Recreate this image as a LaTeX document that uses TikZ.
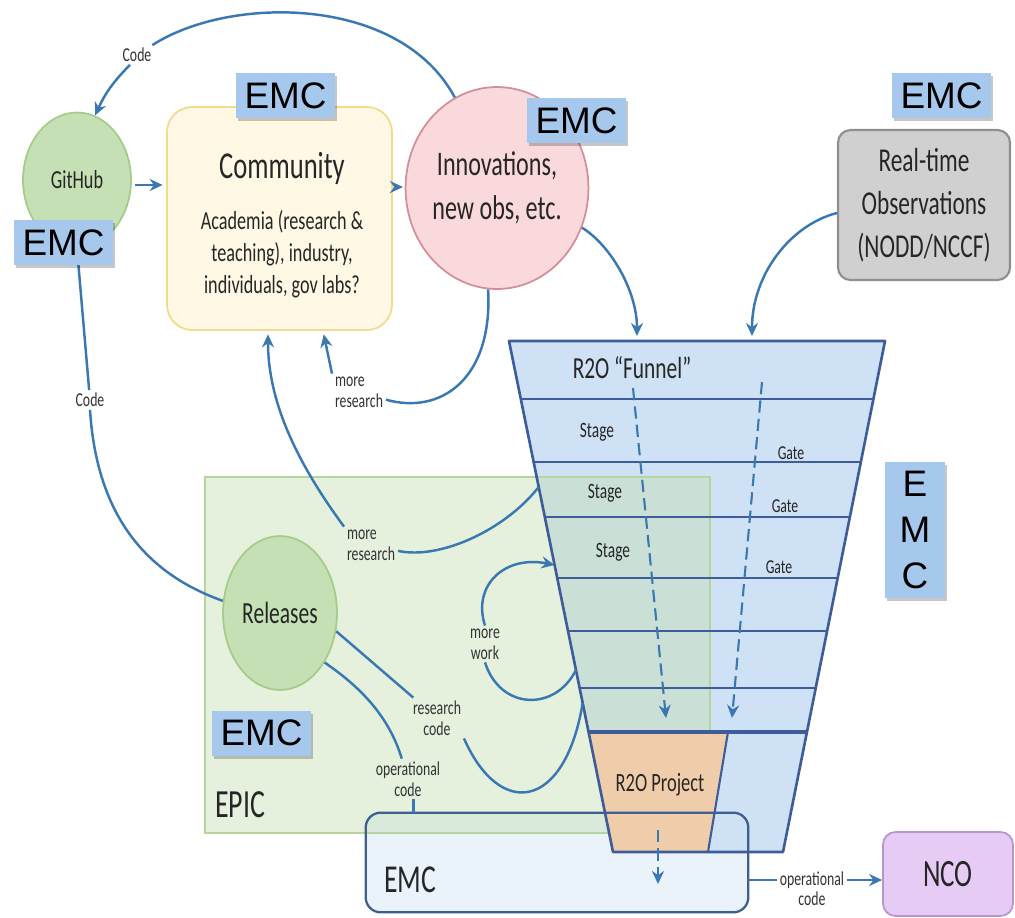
\documentclass[tikz,border=0pt]{standalone}
\usepackage{fontspec}
\setmainfont{Carlito}[FakeStretch=0.7]
\newfontfamily\arialfont{Liberation Sans}
\usepackage{tikz}
\usetikzlibrary{arrows.meta,calc,shapes.geometric,shadows}
\definecolor{flowblue}{HTML}{3A78B2}
\definecolor{emcblue}{HTML}{A6C8EC}
\definecolor{funnelfill}{HTML}{CFE1F4}
\definecolor{funnelline}{HTML}{3D5C99}
\definecolor{projfill}{HTML}{F0CDAA}
\definecolor{epicfill}{HTML}{C5E0B4}
\definecolor{epicborder}{HTML}{B5D49E}
\definecolor{ghfill}{HTML}{C5E0B4}
\definecolor{ghborder}{HTML}{A5CC88}
\definecolor{comfill}{HTML}{FFF8E5}
\definecolor{comborder}{HTML}{F2DB8C}
\definecolor{innfill}{HTML}{F9D9DC}
\definecolor{innborder}{HTML}{D48E99}
\definecolor{obsfill}{HTML}{D0D0D0}
\definecolor{obsborder}{HTML}{8E8E8E}
\definecolor{emcfill}{HTML}{EAF2FA}
\definecolor{emcborder}{HTML}{3F5F8F}
\definecolor{ncofill}{HTML}{E6CBF5}
\definecolor{ncoborder}{HTML}{B596CE}
\definecolor{textdark}{HTML}{262626}
\definecolor{labelgray}{HTML}{333333}

\begin{document}
\begin{tikzpicture}[x=0.02cm,y=-0.02cm,every node/.append style={text=textdark},
  flow/.style={draw=flowblue,line width=1.4pt},
  tip/.style={-{Stealth[length=2.6mm,width=2.4mm]}},
  dashflow/.style={flow,line width=1.2pt,dash pattern=on 7pt off 3.5pt},
  fline/.style={draw=funnelline,line width=1.2pt},
  lbl/.style={font=\fontsize{11.2}{12}\selectfont,text=labelgray,inner sep=1.5pt},
  bubble/.style={ellipse,line width=1pt,inner sep=0pt},
  emc/.style={fill=emcblue,text=black,font=\arialfont\fontsize{21}{26}\selectfont,minimum width=1.98cm,minimum height=0.9cm,inner sep=0pt,
    drop shadow={shadow xshift=0.04cm,shadow yshift=-0.06cm,opacity=0.22,fill=black}}]
\useasboundingbox (0,0) rectangle (1015,917);

\node[fill=emcfill,rounded corners=0.3cm,minimum width=7.64cm,minimum height=1.98cm] (emc) at (557,862.5) {};

\coordinate (ftl) at (509,341); \coordinate (ftr) at (885,341);
\coordinate (fbl) at (613,852); \coordinate (fbr) at (783,852);
\coordinate (pl) at ($(ftl)!{391/511}!(fbl)$); \coordinate (pr) at ($(ftr)!{391/511}!(fbr)$);
\fill[funnelfill] (ftl) -- (ftr) -- (fbr) -- (fbl) -- cycle;

\node[draw=epicborder,fill=epicfill,fill opacity=0.45,line width=1pt,minimum width=10.1cm,minimum height=7.12cm,inner sep=0pt] (epic) at (457.5,655) {};
\node[font=\fontsize{22.7}{25}\selectfont] at (240,805) {EPIC};

\fill[projfill] (pl) -- (728,732) -- (708,852) -- (fbl) -- cycle;
\foreach \y in {399,462,517,578,631,688}
  \draw[fline] ($(ftl)!{(\y-341)/511}!(fbl)$) -- ($(ftr)!{(\y-341)/511}!(fbr)$);
\draw[fline,line width=1.8pt] (pl) -- (pr);
\draw[fline] (728,732) -- (708,852);
\draw[fline,line width=1.5pt,line join=round] (ftl) -- (ftr) -- (fbr) -- (fbl) -- cycle;
\node[font=\fontsize{17.4}{20}\selectfont] at (632,368) {R2O “Funnel”};
\node[font=\fontsize{12.5}{14}\selectfont] at (597,432) {Stage};
\node[font=\fontsize{12.5}{14}\selectfont] at (605,493) {Stage};
\node[font=\fontsize{12.5}{14}\selectfont] at (613,552) {Stage};
\node[font=\fontsize{11.2}{12}\selectfont] at (791,453) {Gate};
\node[font=\fontsize{11.2}{12}\selectfont] at (785,506) {Gate};
\node[font=\fontsize{11.2}{12}\selectfont] at (779,567) {Gate};
\node[font=\fontsize{15}{17}\selectfont] at (660,785) {R2O Project};
\coordinate (dA1) at (633,388); \coordinate (dA2) at (666,718);
\coordinate (dB1) at (762,382); \coordinate (dB2) at (732,718);
\coordinate (dC1) at (658,830); \coordinate (dC2) at (658,884);
\draw[dashflow,tip] (dA1) -- (dA2);
\draw[dashflow,tip] (dB1) -- (dB2);
\draw[dashflow,tip] (dC1) -- (dC2);

\draw[draw=emcborder,line width=1.3pt,rounded corners=0.3cm] (emc.south west) rectangle (emc.north east);
\node[font=\fontsize{22.5}{25}\selectfont] at (410,880) {EMC};

\node[bubble,draw=ghborder,fill=ghfill,minimum width=2.16cm,minimum height=2.7cm,font=\fontsize{14.8}{16}\selectfont] (github) at (77,180) {GitHub};
\node[draw=comborder,fill=comfill,line width=1pt,rounded corners=0.5cm,minimum width=4.5cm,minimum height=4.46cm] (community) at (279.5,218.5) {};
\node[font=\fontsize{21.6}{24}\selectfont] at (282,168) {Community};
\node[font=\fontsize{14.8}{18.2}\selectfont,align=center] at (282,254) {Academia (research \&\\teaching), industry,\\individuals, gov labs?};
\node[bubble,draw=innborder,fill=innfill,minimum width=2.8cm,minimum height=4.04cm,align=center,font=\fontsize{19.6}{25}\selectfont] (innov) at (497,188) {Innovations,\\new obs, etc.};
\node[draw=obsborder,fill=obsfill,line width=1.2pt,rounded corners=0.25cm,minimum width=3.44cm,minimum height=3cm,align=center,font=\fontsize{19}{24.5}\selectfont] (obs) at (924,205) {Real-time\\Observations\\(NODD/NCCF)};
\node[bubble,draw=ghborder,fill=ghfill,minimum width=2.28cm,minimum height=3.08cm,font=\fontsize{17.5}{20}\selectfont] (releases) at (280,613) {Releases};
\node[draw=ncoborder,fill=ncofill,line width=1pt,rounded corners=0.25cm,minimum width=2.6cm,minimum height=1.68cm,font=\fontsize{22}{24}\selectfont] (nco) at (948,874) {NCO};

\node[lbl] (codeA) at (137,55) {Code};
\node[lbl] (codeB) at (90,400) {Code};
\node[lbl,align=left] (mrA) at (359,392) {more\\research};
\node[lbl,align=left] (mrB) at (371,545) {more\\research};
\node[lbl,align=center] (mw) at (485,644) {more\\work};
\node[lbl,align=center] (rc) at (437,718) {research\\code};
\node[lbl,align=center] (oc) at (408,779) {operational\\code};
\node[lbl] (ocn) at (812,880) {operational};
\node[lbl,anchor=north,inner sep=0pt] at (ocn.south) {code};

\coordinate (fin1) at (637,336); \coordinate (fin2) at (752,336);
\coordinate (fmr) at ($(ftl)!{146/511}!(fbl)$);
\coordinate (fmw1) at ($(ftl)!{224/511}!(fbl)$);
\coordinate (fmw2) at ($(ftl)!{329/511}!(fbl)$);
\coordinate (frc) at ($(ftl)!{362/511}!(fbl)$);

\draw[flow] (innov.115) .. controls (400,-5) and (230,-5) .. (codeA);
\draw[flow,tip] (codeA) to[bend right=10] (github);
\draw[flow,tip,shorten <=2pt,shorten >=2pt] (github.east |- 0,185) -- (community.west |- 0,185);
\draw[flow,tip,shorten <=2pt,shorten >=1pt] (community.east |- 0,187) -- (innov.west |- 0,187);
\draw[flow,tip] (innov.-25) .. controls (610,245) and (637,290) .. (fin1);
\draw[flow,tip] (obs.west |- 0,213) .. controls (790,225) and (752,275) .. (fin2);
\draw[flow] (innov.-95) .. controls (493,380) and (440,415) .. (mrA);
\draw[flow,tip,shorten >=2pt] (mrA.north west) -- ([xshift=0.87cm]community.south);
\draw[flow] (fmr) .. controls (505,530) and (440,560) .. (mrB);
\draw[flow,tip,shorten >=2pt] (mrB.north west) .. controls (295,460) and (268,400) .. ([xshift=-0.23cm]community.south);
\draw[flow,tip] (mw.north) .. controls (472,585) and (505,555) .. (fmw1);
\draw[flow] (mw.south) .. controls (500,710) and (555,712) .. (fmw2);
\draw[flow] (releases.-18) -- (rc);
\draw[flow] (rc.south east) .. controls (500,820) and (565,810) .. (frc);
\draw[flow] (releases.-48) .. controls (365,690) and (390,720) .. (oc);
\draw[flow] (oc.-75) -- (oc.-75 |- emc.north);
\draw[flow] (github.south) -- (codeB);
\draw[flow] (codeB.south) .. controls (97,520) and (150,575) .. (releases.168);
\draw[flow] (emc.east |- ocn) -- (ocn);
\draw[flow,tip] (ocn) -- (nco.west |- ocn);

\node[emc] (emcA) at (285.5,95.5) {EMC};
\node[emc] (emcB) at (63.5,242.5) {EMC};
\node[emc] (emcC) at (576.5,120.5) {EMC};
\node[emc] (emcD) at (941.5,95.5) {EMC};
\node[emc,align=center,minimum width=1.2cm,minimum height=2.72cm] (emcE) at (915,530) {E\\M\\C};
\node[emc] (emcF) at (261.5,733) {EMC};
\end{tikzpicture}
\end{document}
